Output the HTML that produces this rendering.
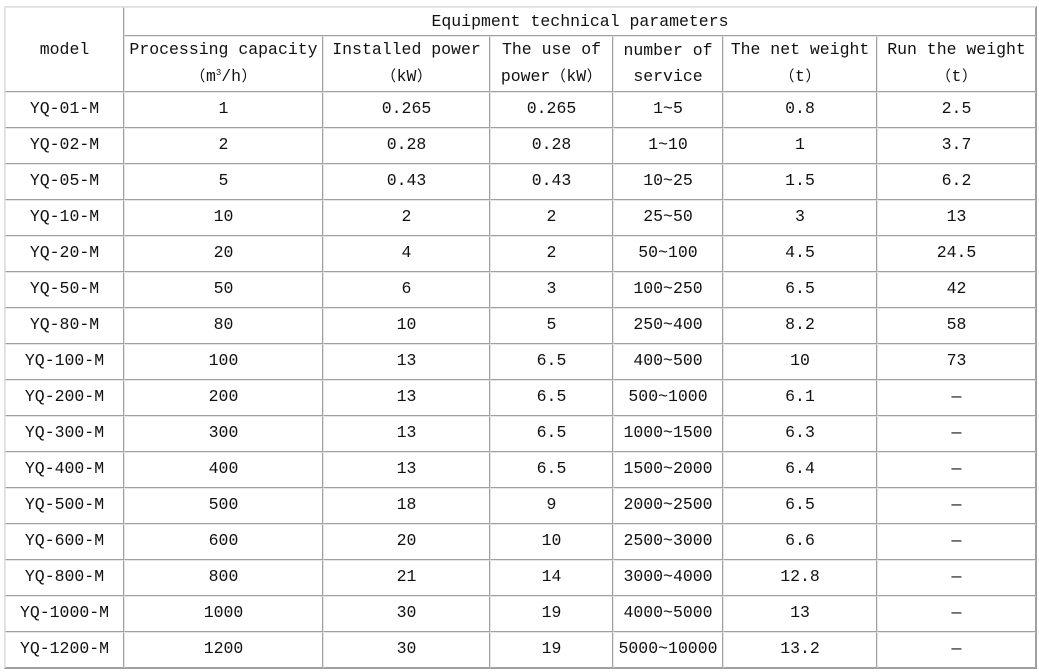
<!DOCTYPE html>
<html><head><meta charset="utf-8"><style>
html,body{margin:0;padding:0;background:#fff;width:1039px;height:672px;overflow:hidden}
table{position:absolute;left:4px;top:6px;border-collapse:separate;border-spacing:0;border:1px solid #a0a0a0;border-left-color:#e0e0e0;border-top-color:#e0e0e0;table-layout:fixed;width:1031px}
td{border-right:1px solid #a0a0a0;border-bottom:1px solid #a0a0a0;border-left:1px solid #e6e6e6;border-top:1px solid #e6e6e6;
font-family:"Liberation Mono","Noto Sans CJK SC",monospace;font-size:16.5px;color:#111;text-align:center;padding:0 0 3px 0;height:31px;white-space:nowrap;overflow:hidden}
tr.h1 td{height:26px;padding:0 0 1px 0}
tr.h2 td{height:46px;line-height:26px;padding:0 0 1px 0}
sup{font-size:9px;vertical-align:6px;line-height:0}
.c{font-family:"Noto Sans CJK SC",sans-serif;font-size:15px;display:inline-block;width:16px}
</style></head><body>
<table>
<colgroup><col style="width:119px"><col style="width:199px"><col style="width:167px"><col style="width:123px"><col style="width:110px"><col style="width:154px"><col style="width:159px"></colgroup>
<tr class="h1"><td rowspan="2">model</td><td colspan="6">Equipment technical parameters</td></tr>
<tr class="h2"><td>Processing capacity<br><span class="c">（</span>m<sup>3</sup>/h<span class="c">）</span></td><td>Installed power<br><span class="c">（</span>kW<span class="c">）</span></td><td>The use of<br>power<span class="c">（</span>kW<span class="c">）</span></td><td>number of<br>service</td><td>The net weight<br><span class="c">（</span>t<span class="c">）</span></td><td>Run the weight<br><span class="c">（</span>t<span class="c">）</span></td></tr>
<tr><td>YQ-01-M</td><td>1</td><td>0.265</td><td>0.265</td><td>1~5</td><td>0.8</td><td>2.5</td></tr>
<tr><td>YQ-02-M</td><td>2</td><td>0.28</td><td>0.28</td><td>1~10</td><td>1</td><td>3.7</td></tr>
<tr><td>YQ-05-M</td><td>5</td><td>0.43</td><td>0.43</td><td>10~25</td><td>1.5</td><td>6.2</td></tr>
<tr><td>YQ-10-M</td><td>10</td><td>2</td><td>2</td><td>25~50</td><td>3</td><td>13</td></tr>
<tr><td>YQ-20-M</td><td>20</td><td>4</td><td>2</td><td>50~100</td><td>4.5</td><td>24.5</td></tr>
<tr><td>YQ-50-M</td><td>50</td><td>6</td><td>3</td><td>100~250</td><td>6.5</td><td>42</td></tr>
<tr><td>YQ-80-M</td><td>80</td><td>10</td><td>5</td><td>250~400</td><td>8.2</td><td>58</td></tr>
<tr><td>YQ-100-M</td><td>100</td><td>13</td><td>6.5</td><td>400~500</td><td>10</td><td>73</td></tr>
<tr><td>YQ-200-M</td><td>200</td><td>13</td><td>6.5</td><td>500~1000</td><td>6.1</td><td>—</td></tr>
<tr><td>YQ-300-M</td><td>300</td><td>13</td><td>6.5</td><td>1000~1500</td><td>6.3</td><td>—</td></tr>
<tr><td>YQ-400-M</td><td>400</td><td>13</td><td>6.5</td><td>1500~2000</td><td>6.4</td><td>—</td></tr>
<tr><td>YQ-500-M</td><td>500</td><td>18</td><td>9</td><td>2000~2500</td><td>6.5</td><td>—</td></tr>
<tr><td>YQ-600-M</td><td>600</td><td>20</td><td>10</td><td>2500~3000</td><td>6.6</td><td>—</td></tr>
<tr><td>YQ-800-M</td><td>800</td><td>21</td><td>14</td><td>3000~4000</td><td>12.8</td><td>—</td></tr>
<tr><td>YQ-1000-M</td><td>1000</td><td>30</td><td>19</td><td>4000~5000</td><td>13</td><td>—</td></tr>
<tr><td>YQ-1200-M</td><td>1200</td><td>30</td><td>19</td><td>5000~10000</td><td>13.2</td><td>—</td></tr>
</table>
</body></html>
